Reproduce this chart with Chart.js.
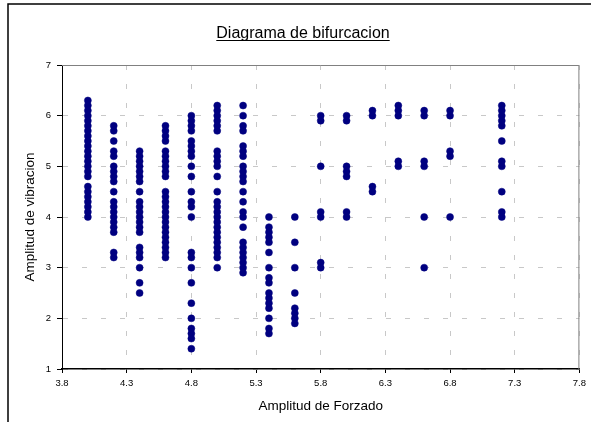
<!DOCTYPE html>
<html>
<head>
<meta charset="utf-8">
<script src="https://cdn.jsdelivr.net/npm/chart.js@4"></script>
<style>
  body { margin: 0; background: #fff; }
  canvas { display: block; }
</style>
</head>
<body>
<canvas id="myChart" width="591" height="422"></canvas>
<script>
// amplitud de forzado de cada columna
var forzado = [4.0, 4.2, 4.4, 4.6, 4.8, 5.0, 5.2, 5.4, 5.6, 5.8, 6.0, 6.2, 6.4, 6.6, 6.8, 7.2];

// amplitudes de vibracion leidas para cada forzado
var a40 = [6.3, 6.2, 6.1, 6.0, 5.9, 5.8, 5.7, 5.6, 5.5, 5.4, 5.3, 5.2, 5.1, 5.0, 4.9, 4.8, 4.6, 4.5, 4.4, 4.3, 4.2, 4.1, 4.0];
var a42 = [5.8, 5.7, 5.5, 5.3, 5.2, 5.0, 4.9, 4.8, 4.7, 4.5, 4.3, 4.2, 4.1, 4.0, 3.9, 3.8, 3.7, 3.3, 3.2];
var a44 = [5.3, 5.2, 5.1, 5.0, 4.9, 4.8, 4.7, 4.5, 4.3, 4.2, 4.1, 4.0, 3.9, 3.8, 3.7, 3.4, 3.3, 3.2, 3.0, 2.7, 2.5];
var a46 = [5.8, 5.7, 5.6, 5.5, 5.3, 5.2, 5.1, 5.0, 4.9, 4.8, 4.5, 4.4, 4.3, 4.2, 4.1, 4.0, 3.9, 3.8, 3.7, 3.6, 3.5, 3.4, 3.3, 3.2];
var a48 = [6.0, 5.9, 5.8, 5.7, 5.5, 5.4, 5.3, 5.2, 5.0, 4.8, 4.5, 4.3, 4.2, 4.0, 3.3, 3.2, 3.0, 2.7, 2.3, 2.0, 1.8, 1.7, 1.6, 1.4];
var a50 = [6.2, 6.1, 6.0, 5.9, 5.8, 5.7, 5.3, 5.2, 5.1, 5.0, 4.8, 4.5, 4.3, 4.2, 4.1, 4.0, 3.9, 3.8, 3.7, 3.6, 3.5, 3.4, 3.3, 3.2, 3.0];
var a52 = [6.2, 6.0, 5.8, 5.7, 5.4, 5.3, 5.2, 5.0, 4.9, 4.8, 4.7, 4.5, 4.3, 4.1, 4.0, 3.8, 3.5, 3.4, 3.3, 3.2, 3.1, 3.0, 2.9];
var a54 = [4.0, 3.8, 3.7, 3.6, 3.5, 3.3, 3.0, 2.8, 2.7, 2.5, 2.4, 2.3, 2.2, 2.0, 1.8, 1.7];
var a56 = [4.0, 3.5, 3.0, 2.5, 2.2, 2.1, 2.0, 1.9];
var a58 = [6.0, 5.9, 5.0, 4.1, 4.0, 3.1, 3.0];
var a60 = [6.0, 5.9, 5.0, 4.9, 4.8, 4.1, 4.0];
var a62 = [6.1, 6.0, 4.6, 4.5];
var a64 = [6.2, 6.1, 6.0, 5.1, 5.0];
var a66 = [6.1, 6.0, 5.1, 5.0, 4.0, 3.0];
var a68 = [6.1, 6.0, 5.3, 5.2, 4.0];
var a72 = [6.2, 6.1, 6.0, 5.9, 5.8, 5.5, 5.1, 5.0, 4.5, 4.1, 4.0];

var vibracion = [a40, a42, a44, a46, a48, a50, a52, a54, a56, a58, a60, a62, a64, a66, a68, a72];

var puntos = [];
for (var i = 0; i < forzado.length; i++) {
    for (var j = 0; j < vibracion[i].length; j++) {
        puntos.push({x: forzado[i], y: vibracion[i][j]});
    }
}

var FONT = "'Liberation Sans', Arial, sans-serif";

// marco, borde del area de trazado y titulo subrayado
var decoracion = {
    id: 'decoracion',
    beforeDatasetsDraw: function (chart) {
        var ctx = chart.ctx, a = chart.chartArea;
        ctx.save();
        ctx.strokeStyle = '#808080';
        ctx.lineWidth = 1;
        ctx.beginPath();
        ctx.moveTo(a.left, a.top + 0.5);
        ctx.lineTo(a.right - 0.5, a.top + 0.5);
        ctx.lineTo(a.right - 0.5, a.bottom);
        ctx.stroke();
        ctx.restore();
    },
    afterDraw: function (chart) {
        var ctx = chart.ctx;
        ctx.save();
        ctx.strokeStyle = '#000';
        ctx.lineWidth = 1.5;
        ctx.strokeRect(8, 4, 600, 440);

        var titulo = 'Diagrama de bifurcacion';
        ctx.font = '16px ' + FONT;
        ctx.fillStyle = '#000';
        ctx.textAlign = 'center';
        ctx.textBaseline = 'alphabetic';
        var cx = 303, by = 38;
        ctx.fillText(titulo, cx, by);
        var w = ctx.measureText(titulo).width;
        ctx.lineWidth = 1;
        ctx.beginPath();
        ctx.moveTo(cx - w / 2, by + 2.5);
        ctx.lineTo(cx + w / 2, by + 2.5);
        ctx.stroke();
        ctx.restore();
    }
};

var ctx = document.getElementById('myChart').getContext('2d');
var myChart = new Chart(ctx, {
    type: 'scatter',
    data: {
        datasets: [{
            label: 'Amplitud',
            data: puntos,
            backgroundColor: '#000080',
            borderColor: '#000080',
            borderWidth: 0.5,
            pointRadius: 3.5,
            pointHoverRadius: 3.5
        }]
    },
    options: {
        responsive: false,
        animation: false,
        devicePixelRatio: 1,
        layout: {
            padding: {top: 65, right: 9, left: 0, bottom: 0}
        },
        plugins: {
            legend: {display: false},
            title: {display: false},
            tooltip: {enabled: false}
        },
        scales: {
            x: {
                type: 'linear',
                min: 3.8,
                max: 7.8,
                afterFit: function (s) { s.height = 53; },
                ticks: {
                    stepSize: 0.5,
                    color: '#000',
                    font: {family: FONT, size: 9.5},
                    padding: 5,
                    maxRotation: 0,
                    callback: function (v) { return v.toFixed(1); }
                },
                grid: {
                    color: '#c8c8c8',
                    tickColor: '#000',
                    tickLength: 4
                },
                border: {color: '#000', width: 1.5, dash: [5, 14]},
                title: {
                    display: true,
                    text: 'Amplitud de Forzado',
                    color: '#000',
                    font: {family: FONT, size: 13.5},
                    padding: {top: 0, bottom: 8}
                }
            },
            y: {
                min: 1,
                max: 7,
                afterFit: function (s) { s.width = 62; },
                ticks: {
                    stepSize: 1,
                    color: '#000',
                    font: {family: FONT, size: 9.5},
                    padding: 6
                },
                grid: {
                    color: '#c8c8c8',
                    tickColor: '#000',
                    tickLength: 5
                },
                border: {color: '#000', width: 1, dash: [5, 14]},
                title: {
                    display: true,
                    text: 'Amplitud de vibracion',
                    color: '#000',
                    font: {family: FONT, size: 13.5},
                    padding: {top: 22, bottom: 0}
                }
            }
        }
    },
    plugins: [decoracion]
});
</script>
</body>
</html>
